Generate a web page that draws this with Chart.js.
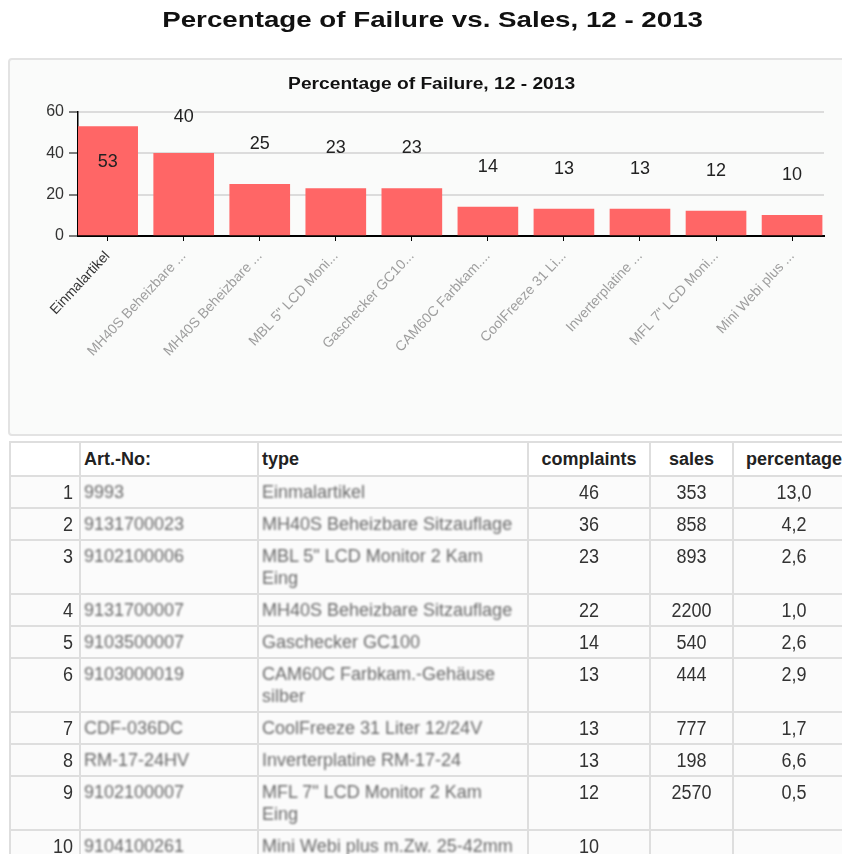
<!DOCTYPE html>
<html>
<head>
<meta charset="utf-8">
<script src="https://cdn.jsdelivr.net/npm/chart.js@4.4.1/dist/chart.umd.min.js"></script>
<style>
  html, body { margin:0; padding:0; background:#ffffff; width:842px; height:854px; overflow:hidden; position:relative; font-family:"Liberation Sans", Arial, sans-serif; }
  #mainTitle { position:absolute; left:0; top:9px; width:866px; text-align:center; font-weight:bold; font-size:22px; line-height:22px; color:#111; white-space:nowrap; }
  #mainTitle span, #innerTitle span { display:inline-block; transform:scaleX(1.26); }
  #panel { position:absolute; left:8px; top:58px; width:850px; height:374px; background:#fafbfa; border:2px solid #e3e3e3; border-radius:4px; }
  #innerTitle { position:absolute; left:0; top:76px; width:864px; text-align:center; font-weight:bold; font-size:16px; line-height:16px; color:#111; white-space:nowrap; z-index:2; }
  #innerTitle span { transform:scaleX(1.2); }
  #chartWrap { position:absolute; left:9px; top:59px; width:833px; height:375px; }
  table { position:absolute; left:9px; top:441px; border-collapse:collapse; table-layout:fixed; width:847px; font-size:18px; color:#333; }
  table { border-top:2px solid #4a4a4a; border-left:2px solid #4a4a4a; }
  td, th { border:2px solid #dedede; padding:4px 6px; line-height:22px; vertical-align:top; }
  th { font-weight:bold; color:#222; background:#fff; text-align:left; padding:5px 3px; }
  th.c { text-align:center; }
  tbody td { background:#fbfbfb; }
  td.num { text-align:right; padding-right:6px; }
  td.c { text-align:center; }
  td.txt { padding-left:3px; }
  .blur { filter:blur(1.1px); color:#6a6a6a; }
  .n { display:inline-block; transform:scaleY(1.15); }
</style>
</head>
<body>
<div id="mainTitle"><span>Percentage of Failure vs. Sales, 12 - 2013</span></div>
<div id="panel"></div>
<div id="innerTitle"><span>Percentage of Failure, 12 - 2013</span></div>
<div id="chartWrap"><canvas id="c" width="833" height="375"></canvas></div>
<table id="tbl">
  <colgroup>
    <col style="width:70px"><col style="width:178px"><col style="width:270px"><col style="width:122px"><col style="width:83px"><col style="width:122px">
  </colgroup>
  <thead><tr id="hdr"></tr></thead>
  <tbody id="tb"></tbody>
</table>
<script>
// ---- chart data ----
const barLabels = ["Einmalartikel", "MH40S Beheizbare ...", "MH40S Beheizbare ...", "MBL 5\" LCD Moni...", "Gaschecker GC10...", "CAM60C Farbkam....", "CoolFreeze 31 Li...", "Inverterplatine ...", "MFL 7\" LCD Moni...", "Mini Webi plus ..."];
const failureValues = [53, 40, 25, 23, 23, 14, 13, 13, 12, 10];
const yTicks = [0, 20, 40, 60];

// ---- table data ----
const tableHeaders = ["", "Art.-No:", "type", "complaints", "sales", "percentage"];
const rowNumbers = [1, 2, 3, 4, 5, 6, 7, 8, 9, 10];
const artNumbers = ["9993", "9131700023", "9102100006", "9131700007", "9103500007", "9103000019", "CDF-036DC", "RM-17-24HV", "9102100007", "9104100261"];
const types = ["Einmalartikel", "MH40S Beheizbare Sitzauflage", "MBL 5\" LCD Monitor 2 Kam Eing", "MH40S Beheizbare Sitzauflage", "Gaschecker GC100", "CAM60C Farbkam.-Gehäuse silber", "CoolFreeze 31 Liter 12/24V", "Inverterplatine RM-17-24", "MFL 7\" LCD Monitor 2 Kam Eing", "Mini Webi plus m.Zw. 25-42mm"];
const complaints = [46, 36, 23, 22, 14, 13, 13, 13, 12, 10];
const sales = ["353", "858", "893", "2200", "540", "444", "777", "198", "2570", ""];
const percentages = ["13,0", "4,2", "2,6", "1,0", "2,6", "2,9", "1,7", "6,6", "0,5", ""];

// build table
const hdr = document.getElementById('hdr');
tableHeaders.forEach((h, i) => {
  const th = document.createElement('th');
  th.textContent = h;
  if (i >= 3) th.className = 'c';
  hdr.appendChild(th);
});
const tb = document.getElementById('tb');
rowNumbers.forEach((n, i) => {
  const tr = document.createElement('tr');
  tr.innerHTML =
    '<td class="num"><span class="n">' + n + '</span></td>' +
    '<td class="txt"><div class="blur"></div></td>' +
    '<td class="txt"><div class="blur"></div></td>' +
    '<td class="c"><span class="n">' + complaints[i] + '</span></td>' +
    '<td class="c"><span class="n">' + sales[i] + '</span></td>' +
    '<td class="c"><span class="n">' + percentages[i] + '</span></td>';
  tr.children[1].firstChild.textContent = artNumbers[i];
  tr.children[2].firstChild.textContent = types[i];
  tb.appendChild(tr);
});

// value label plugin
const valueLabels = {
  id: 'valueLabels',
  afterDatasetsDraw(chart) {
    const ctx = chart.ctx;
    const area = chart.chartArea;
    const meta = chart.getDatasetMeta(0);
    ctx.save();
    ctx.font = '18px "Liberation Sans", Arial, sans-serif';
    ctx.fillStyle = '#222';
    ctx.textAlign = 'center';
    ctx.textBaseline = 'middle';
    meta.data.forEach((bar, i) => {
      let y = bar.y - 40;
      if (y < area.top - 12) y = bar.y + 36;
      else y = Math.max(y, area.top + 5);
      ctx.fillText(String(failureValues[i]), bar.x, y);
    });
    ctx.restore();
  }
};

new Chart(document.getElementById('c'), {
  type: 'bar',
  data: {
    datasets: [{
      data: failureValues.map((v, i) => ({ x: i, y: v })),
      backgroundColor: '#ff6666',
      borderWidth: 0,
      barThickness: 60
    }]
  },
  options: {
    responsive: false,
    animation: false,
    layout: { padding: { top: 53, right: 18, bottom: 0, left: 0 } },
    plugins: { legend: { display: false }, tooltip: { enabled: false }, title: { display: false } },
    scales: {
      x: {
        type: 'linear',
        offset: false,
        min: -0.39,
        max: 9.42,
        afterFit(scale) { scale.height = 198; },
        afterBuildTicks(scale) { scale.ticks = barLabels.map((l, i) => ({ value: i })); },
        ticks: {
          autoSkip: false,
          includeBounds: false,
          stepSize: 1,
          minRotation: 47,
          maxRotation: 47,
          padding: 7,
          font: { family: '"Liberation Sans", Arial, sans-serif', size: 14 },
          color: (ctx) => ctx.index === 0 ? '#333' : '#9e9e9e',
          callback: (v) => barLabels[Math.round(v)] ?? ''
        },
        grid: { offset: false, drawOnChartArea: false, drawTicks: true, tickLength: 5, tickColor: '#000', tickWidth: 1 },
        border: { color: '#000', width: 2 }
      },
      y: {
        min: 0,
        max: 60,
        afterFit(scale) { scale.width = 69; },
        afterBuildTicks(scale) { scale.ticks = yTicks.map(v => ({ value: v })); },
        ticks: {
          stepSize: 20,
          padding: 5,
          font: { family: '"Liberation Sans", Arial, sans-serif', size: 16 },
          color: '#333'
        },
        grid: { color: '#dcdcdc', lineWidth: 2, tickColor: '#000', tickLength: 9, tickWidth: 1 },
        border: { color: '#000', width: 1.5 }
      }
    }
  },
  plugins: [valueLabels]
});
</script>
</body>
</html>
